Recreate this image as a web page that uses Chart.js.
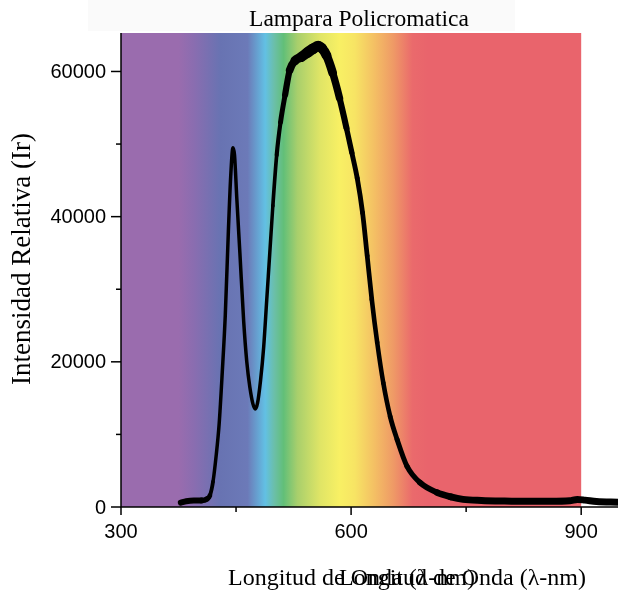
<!DOCTYPE html>
<html>
<head>
<meta charset="utf-8">
<title>Lampara Policromatica</title>
<script src="https://cdn.jsdelivr.net/npm/chart.js@4.4.1/dist/chart.umd.min.js"></script>
<style>
  html, body { margin: 0; padding: 0; background: #ffffff; }
  #chart { display: block; }
</style>
</head>
<body>
<canvas id="chart" width="618" height="590"></canvas>
<script>
// Emission spectrum of a polychromatic lamp (wavelength in nm, relative intensity)
const wavelengths = [
  378, 385, 395, 405, 412, 416, 420, 424, 428, 432, 436, 440, 443, 446, 448,
  451, 455, 460, 464, 468, 472, 475, 478, 482, 486, 490, 494, 498, 503, 508,
  514, 520, 527, 535, 543, 550, 557, 562, 568, 576, 585, 594, 601, 608, 615,
  621, 627, 634, 642, 651, 660, 673, 690, 712, 730, 746, 770, 800, 830, 860,
  885, 895, 905, 920, 948
];
const intensity = [
  600, 800, 900, 900, 1100, 1600, 3500, 7000, 11500, 18500, 26500, 38000, 45500, 49500, 48500,
  42500, 35000, 25500, 20000, 16500, 14200, 13500, 14300, 17500, 22000, 28500, 35000, 41500, 48500, 53000,
  56800, 60200, 61500, 62000, 62600, 63100, 63500, 63200, 62200, 59800, 56300, 52200, 48800, 45300, 40500,
  34600, 28600, 22700, 17100, 12450, 9300, 5600, 3350, 2000, 1400, 1050, 900, 820, 780, 780,
  850, 1050, 950, 750, 650
];

// Axis ticks
const xTickValues = [300, 450, 600, 750, 900];
const xTickLabels = ['300', '', '600', '', '900'];
const yTickValues = [0, 10000, 20000, 30000, 40000, 50000, 60000];
const yTickLabels = ['0', '', '20000', '', '40000', '', '60000'];

// Visible-spectrum colour stops (wavelength in nm -> colour)
const spectrumNm = [300, 375, 395, 430, 465, 488, 500, 512, 530, 560, 585, 605, 630, 655, 680, 700, 900];
const spectrumColors = [
  '#9a6cae', '#9a6cae', '#8a6db0', '#6873b2', '#6c7ab8', '#62c0e4', '#6bbfa8', '#62bf78',
  '#a8cf6c', '#e0e566', '#f8f064', '#f7e464', '#f4c064', '#ef9a66', '#ea6a6c', '#e9646c', '#e9646c'
];

// Thickness of the noisy trace along the spectrum (nm -> px)
const noiseNm = [378, 410, 418, 500, 512, 528, 545, 565, 582, 600, 640, 690, 730, 948];
const noiseWidth = [6, 6, 3.5, 3.5, 5, 9, 11, 10, 7, 5, 4.5, 5.5, 7, 7];

const chartTitle = 'Lampara Policromatica';
const xTitle = 'Longitud de Onda (\u03bb-nm)';
const yTitle = 'Intensidad Relativa (Ir)';

const points = wavelengths.map((w, i) => ({ x: w, y: intensity[i] }));

function traceWidth(nm) {
  if (nm <= noiseNm[0]) return noiseWidth[0];
  for (let i = 1; i < noiseNm.length; i++) {
    if (nm <= noiseNm[i]) {
      const t = (nm - noiseNm[i - 1]) / (noiseNm[i] - noiseNm[i - 1]);
      return noiseWidth[i - 1] + t * (noiseWidth[i] - noiseWidth[i - 1]);
    }
  }
  return noiseWidth[noiseWidth.length - 1];
}

const spectrumPlugin = {
  id: 'spectrumBackdrop',
  beforeDraw(chart) {
    const { ctx, chartArea, scales } = chart;
    const x = scales.x;
    ctx.save();
    // title panel
    ctx.fillStyle = '#fafafa';
    ctx.fillRect(88, 0, 427, 31);
    // colour band
    const x0 = x.getPixelForValue(300);
    const x1 = x.getPixelForValue(900);
    const grad = ctx.createLinearGradient(x0, 0, x1, 0);
    spectrumNm.forEach((nm, i) => grad.addColorStop((nm - 300) / 600, spectrumColors[i]));
    ctx.fillStyle = grad;
    ctx.fillRect(x0, chartArea.top, x1 - x0, chartArea.bottom - chartArea.top);
    ctx.restore();
  },
  afterDraw(chart) {
    const { ctx, chartArea, scales } = chart;
    const x = scales.x, y = scales.y;
    const left = chartArea.left, bottom = chartArea.bottom;
    ctx.save();
    ctx.strokeStyle = '#000000';
    ctx.fillStyle = '#000000';
    ctx.lineWidth = 1.5;
    // axis lines
    ctx.beginPath();
    ctx.moveTo(left, chartArea.top);
    ctx.lineTo(left, bottom);
    ctx.lineTo(chartArea.right, bottom);
    ctx.stroke();
    // x ticks and labels
    ctx.font = '20px "Liberation Sans", Arial, sans-serif';
    ctx.textAlign = 'center';
    ctx.textBaseline = 'alphabetic';
    xTickValues.forEach((v, i) => {
      const px = x.getPixelForValue(v);
      const len = xTickLabels[i] ? 8 : 5;
      ctx.beginPath();
      ctx.moveTo(px, bottom);
      ctx.lineTo(px, bottom + len);
      ctx.stroke();
      if (xTickLabels[i]) ctx.fillText(xTickLabels[i], px, bottom + 31);
    });
    // y ticks and labels
    ctx.textAlign = 'right';
    ctx.textBaseline = 'middle';
    yTickValues.forEach((v, i) => {
      const py = y.getPixelForValue(v);
      const len = yTickLabels[i] ? 10 : 5;
      ctx.beginPath();
      ctx.moveTo(left - len, py);
      ctx.lineTo(left, py);
      ctx.stroke();
      if (yTickLabels[i]) ctx.fillText(yTickLabels[i], left - 15, py + 1);
    });
    // titles
    ctx.font = '23.5px "Liberation Serif", "Times New Roman", serif';
    ctx.textAlign = 'center';
    ctx.textBaseline = 'alphabetic';
    ctx.fillText(chartTitle, 359, 26);
    ctx.font = '24px "Liberation Serif", "Times New Roman", serif';
    ctx.textAlign = 'left';
    ctx.fillText(xTitle, 228, 585);
    ctx.fillText(xTitle, 339, 585);
    ctx.save();
    ctx.translate(30, 259);
    ctx.rotate(-Math.PI / 2);
    ctx.textAlign = 'center';
    ctx.font = '27px "Liberation Serif", "Times New Roman", serif';
    ctx.fillText(yTitle, 0, 0);
    ctx.restore();
    ctx.restore();
  }
};

new Chart(document.getElementById('chart'), {
  type: 'line',
  data: {
    datasets: [{
      data: points,
      borderColor: '#000000',
      borderWidth: 3.5,
      borderCapStyle: 'round',
      borderJoinStyle: 'round',
      pointRadius: 0,
      cubicInterpolationMode: 'monotone',
      fill: false,
      segment: {
        borderWidth: ctx => (traceWidth(ctx.p0.parsed.x) + traceWidth(ctx.p1.parsed.x)) / 2
      }
    }]
  },
  options: {
    responsive: false,
    animation: false,
    devicePixelRatio: 1,
    layout: { padding: { top: 33, left: 0, right: 0, bottom: 0 } },
    plugins: { legend: { display: false }, tooltip: { enabled: false }, title: { display: false } },
    scales: {
      x: {
        type: 'linear', min: 300, max: 948,
        grid: { display: false }, border: { display: false },
        ticks: { display: false },
        afterFit: s => { s.height = 83; }
      },
      y: {
        type: 'linear', min: 0, max: 65300,
        grid: { display: false }, border: { display: false },
        ticks: { display: false },
        afterFit: s => { s.width = 121; }
      }
    }
  },
  plugins: [spectrumPlugin]
});
</script>
</body>
</html>
